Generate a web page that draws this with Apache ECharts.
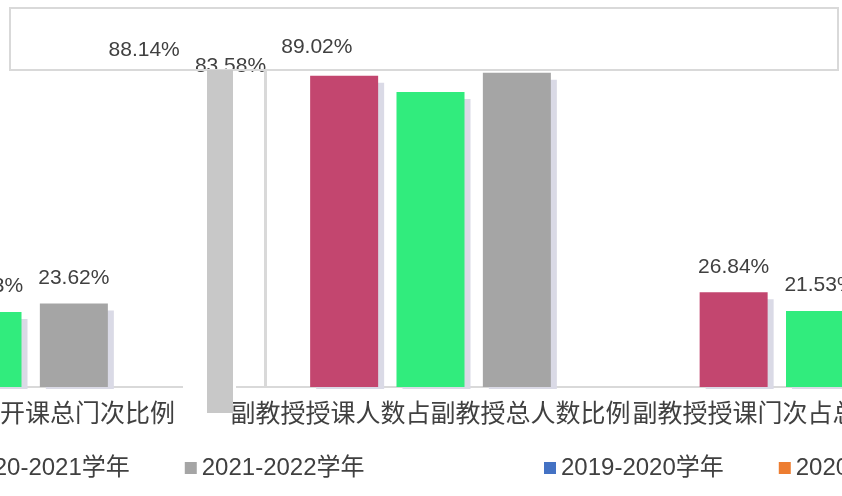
<!DOCTYPE html>
<html>
<head>
<meta charset="utf-8">
<script src="https://cdn.jsdelivr.net/npm/echarts@6/dist/echarts.min.js"></script>
<style>
html,body{margin:0;padding:0;background:#fff;overflow:hidden;width:842px;height:496px;}
#wrap{position:relative;width:842px;height:496px;overflow:hidden;}
#c{position:absolute;left:-260px;top:0;width:1400px;height:496px;}
</style>
</head>
<body>
<div id="wrap"><div id="c"></div></div>
<script>
const categories = ['副教授开课门次占开课总门次比例', '副教授授课人数占副教授总人数比例', '副教授授课门次占总开课门次比例'];
const seriesNames = ['2019-2020学年', '2020-2021学年', '2021-2022学年'];
const s2019 = [24.5, 88.14, 26.84];
const s2020 = [21.23, 83.58, 21.53];
const s2021 = [23.62, 89.02, 22.1];
const barColors = ['#C3466F', '#31EC7D', '#A5A5A5'];
const legendColors = ['#4472C4', '#ED7D31', '#A5A5A5'];

const FONT = "'Liberation Sans', 'Noto Sans CJK SC', sans-serif";
const OFF = 260; // chart canvas starts 260px left of the visible frame
const values = [s2019, s2020, s2021];
const catW = 389.5;
const mainLeft = 430.5 - 1.5 * catW + OFF;
const sideLeft = -12.5 - 0.5 * catW + OFF;

function build(arr, keep) {
  return arr.map((v, i) => {
    if (!keep(i)) return '-';
    const item = { value: v };
    if (i === 1) item.label = { offset: [-200, 0] };
    return item;
  });
}

const series = [];
[0, 1].forEach(g => {
  values.forEach((arr, k) => {
    series.push({
      name: seriesNames[k],
      type: 'bar',
      xAxisIndex: g,
      yAxisIndex: g,
      barWidth: 68,
      barGap: '27%',
      data: build(arr, g === 0 ? (i => i !== 0) : (i => i === 0)),
      itemStyle: {
        color: barColors[k],
        shadowColor: '#dadae6',
        shadowOffsetX: 6,
        shadowOffsetY: 7,
        shadowBlur: 0
      },
      label: {
        show: true,
        position: 'top',
        distance: 15,
        color: '#404040',
        fontSize: 21,
        fontFamily: FONT,
        formatter: p => p.value.toFixed(2) + '%'
      }
    });
  });
});

const legendItem = (k) => ({ name: seriesNames[k], itemStyle: { color: legendColors[k] } });
const legendBase = {
  top: 451,
  orient: 'horizontal',
  icon: 'rect',
  itemWidth: 12,
  itemHeight: 12,
  itemGap: 55,
  textStyle: { fontSize: 24, color: '#404040', fontFamily: FONT }
};

const labelBase = { fontSize: 25, color: '#404040', fontFamily: FONT, margin: 16, hideOverlap: false };
const xAxisBase = {
  type: 'category',
  data: categories,
  axisTick: { show: false },
  axisLine: { lineStyle: { color: '#d9d9d9', width: 2 } }
};
const yAxisBase = { type: 'value', min: 0, max: 100, show: false, splitLine: { show: false } };

const option = {
  animation: false,
  backgroundColor: '#ffffff',
  grid: [
    { left: mainLeft, width: catW * 3, top: 34, height: 353 },
    { left: sideLeft, width: catW * 3, top: 34, height: 353 }
  ],
  xAxis: [
    Object.assign({}, xAxisBase, { gridIndex: 0, axisLabel: Object.assign({}, labelBase, { interval: 0, formatter: (v, i) => i === 0 ? '' : v }) }),
    Object.assign({}, xAxisBase, { gridIndex: 1, axisLabel: Object.assign({}, labelBase, { interval: 0, formatter: (v, i) => i === 0 ? v : '' }) })
  ],
  yAxis: [
    Object.assign({ gridIndex: 0 }, yAxisBase),
    Object.assign({ gridIndex: 1 }, yAxisBase)
  ],
  legend: [
    Object.assign({}, legendBase, { left: -55 + OFF, data: [legendItem(1), legendItem(2)] }),
    Object.assign({}, legendBase, { left: 539 + OFF, data: [legendItem(0), legendItem(1)] })
  ],
  graphic: [
    { type: 'rect', z: 100, silent: true, shape: { x: OFF, y: 389, width: 842, height: 9 }, style: { fill: '#ffffff' } },
    { type: 'rect', z: 100, silent: true, shape: { x: 183 + OFF, y: 384, width: 53, height: 6 }, style: { fill: '#ffffff' } },
    { type: 'rect', z: 101, silent: true, shape: { x: 10 + OFF, y: 8, width: 828, height: 62 }, style: { fill: 'none', stroke: '#d9d9d9', lineWidth: 2 } },
    { type: 'rect', z: 101, silent: true, shape: { x: 207 + OFF, y: 70, width: 26, height: 343 }, style: { fill: '#c8c8c8' } },
    { type: 'rect', z: 101, silent: true, shape: { x: 264 + OFF, y: 70, width: 3, height: 317 }, style: { fill: '#d9d9d9' } }
  ],
  series: series
};

const chart = echarts.init(document.getElementById('c'), null, { renderer: 'canvas' });
chart.setOption(option);
</script>
</body>
</html>
